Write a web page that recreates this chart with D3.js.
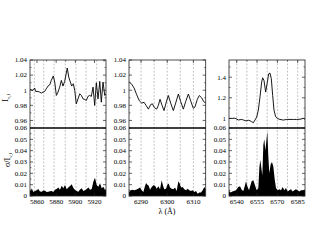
<!DOCTYPE html>
<html><head><meta charset="utf-8">
<script src="https://cdn.jsdelivr.net/npm/d3@7"></script>
<style>
html,body{margin:0;padding:0;background:#fff;}
svg{display:block;font-family:"Liberation Serif","Times New Roman",serif;}
</style></head>
<body><svg id="c" width="317" height="245"></svg>
<script>
// ---------- DATA ----------
// Panel 1 (5853-5932 Å)
const p1Wave = [5852.7,5855.8,5857.6,5858.6,5861.0,5862.8,5864.5,5866.3,5868.0,5869.7,5871.5,5873.3,5874.9,5877.0,5878.5,5880.2,5881.9,5883.7,5885.4,5887.1,5888.9,5891.6,5893.1,5894.8,5896.2,5897.9,5899.4,5901.0,5902.8,5904.6,5906.3,5908.0,5909.8,5911.5,5913.2,5915.0,5916.7,5918.5,5920.2,5921.9,5923.7,5925.5,5927.1,5928.9,5930.7,5932.0];
const p1Flux = [1.001,0.9997,1.0028,0.9984,0.9984,0.9975,0.9962,0.9975,0.9984,1.0019,1.0055,1.0072,1.013,1.0188,1.0108,0.9931,0.9975,1.0041,1.013,1.0055,1.0117,1.0294,1.0174,1.0108,1.0055,1.0086,0.9997,0.982,0.9886,0.9953,0.9931,0.9886,0.9878,0.9865,0.9918,0.9931,0.9918,1.0041,0.9798,1.0099,0.9886,1.0117,0.9842,1.0108,0.9931,0.9953];
const p1SigWave = [5852.7,5853.6,5854.5,5856.2,5857.9,5859.6,5861.4,5863.1,5864.9,5866.6,5868.4,5870.1,5871.8,5873.5,5875.3,5877.0,5878.8,5880.5,5882.2,5884.0,5885.8,5887.5,5889.2,5891.0,5892.7,5894.5,5896.2,5898.0,5899.7,5901.4,5903.1,5904.9,5906.7,5908.4,5910.1,5911.9,5913.6,5915.4,5917.1,5918.8,5920.5,5922.3,5924.0,5925.8,5927.5,5929.2,5931.0,5932.0];
const p1Sig = [0.0053,0.0045,0.0068,0.0035,0.0044,0.005,0.0062,0.004,0.0038,0.0048,0.0047,0.0035,0.0038,0.0042,0.0044,0.0035,0.0056,0.0062,0.0074,0.0055,0.0091,0.0068,0.0097,0.006,0.0074,0.0088,0.0103,0.007,0.0053,0.0045,0.0038,0.0058,0.0068,0.0045,0.005,0.0062,0.0074,0.0055,0.0062,0.0126,0.0162,0.0097,0.0082,0.0112,0.0068,0.0082,0.0053,0.006];
const p1Grid = [5857.2,5867.0,5877.8,5889.5,5900.7,5911.2,5922.3];
const p1XTicks = [5860,5880,5900,5920];
const p1YTicks = [0.96,0.98,1,1.02,1.04];

// Panel 2 (6285-6315 Å)
const p2Wave = [6285.42,6286.44,6287.33,6288.35,6289.36,6290.25,6291.15,6291.91,6292.80,6293.69,6294.33,6295.09,6295.98,6296.62,6297.25,6298.02,6298.78,6299.54,6300.43,6301.32,6302.34,6303.23,6304.25,6305.14,6306.16,6307.05,6308.07,6308.96,6309.97,6310.61,6311.50,6312.26,6313.16,6313.92,6314.68];
const p2Flux = [1.011,1.008,1.003,0.994,0.986,0.983,0.984,0.98,0.975,0.981,0.982,0.977,0.975,0.980,0.988,0.980,0.973,0.983,0.993,0.983,0.973,0.983,0.995,0.985,0.975,0.985,0.995,0.986,0.976,0.978,0.988,0.993,0.990,0.985,0.983];
const p2SigWave = [6285.42,6286.06,6286.69,6287.33,6288.09,6288.85,6289.62,6290.25,6290.89,6291.40,6291.91,6292.42,6292.93,6293.44,6294.07,6294.71,6295.34,6295.98,6296.62,6297.25,6297.89,6298.40,6298.90,6299.54,6300.05,6300.56,6301.07,6301.71,6302.34,6302.98,6303.61,6304.25,6304.76,6305.27,6305.90,6306.54,6307.18,6307.81,6308.45,6309.08,6309.72,6310.36,6310.99,6311.63,6312.26,6312.90,6313.54,6314.17,6314.68];
const p2Sig = [0.0035,0.005,0.0056,0.005,0.0056,0.0065,0.0074,0.005,0.0035,0.008,0.0115,0.01,0.009,0.0056,0.008,0.0094,0.009,0.0065,0.0085,0.006,0.0138,0.009,0.006,0.0065,0.01,0.011,0.0075,0.0065,0.006,0.0075,0.0045,0.013,0.011,0.0075,0.008,0.006,0.005,0.0065,0.005,0.0045,0.005,0.0035,0.0045,0.002,0.003,0.003,0.005,0.008,0.006];
const p2Grid = [6290,6295,6300,6305,6310];
const p2XTicks = [6290,6300,6310];
const p2YTicks = [0.96,0.98,1,1.02,1.04];

// Panel 3 (6534-6590 Å, H-alpha)
const p3Wave = [6534.3,6536.27,6538.73,6541.19,6543.65,6544.88,6546.85,6548.57,6549.80,6551.03,6552.26,6553.49,6554.72,6555.95,6557.18,6558.41,6559.15,6560.13,6561.36,6562.59,6563.58,6564.56,6565.54,6566.53,6567.51,6568.74,6569.97,6571.94,6574.40,6576.86,6579.32,6581.78,6584.24,6586.70,6589.16,6590.39];
const p3Flux = [1.000,1.000,1.002,0.985,0.99,0.985,0.975,0.982,0.978,0.968,0.958,0.985,1.013,1.08,1.208,1.352,1.394,1.368,1.256,1.35,1.433,1.44,1.385,1.224,1.08,1.016,1.0,0.99,0.984,0.99,0.99,0.99,0.99,0.992,1.0,0.992];
const p3SigWave = [6534.3,6535.53,6536.76,6537.99,6539.47,6541.19,6542.42,6543.65,6544.88,6546.11,6546.85,6547.83,6549.06,6550.04,6551.03,6552.26,6553.49,6554.72,6555.95,6556.69,6557.42,6558.16,6558.9,6559.64,6560.37,6561.11,6561.85,6562.59,6563.33,6564.06,6565.05,6566.03,6567.02,6568.0,6568.99,6570.22,6571.45,6572.68,6573.91,6575.13,6576.37,6577.6,6578.82,6580.06,6581.29,6582.51,6583.75,6584.98,6586.2,6587.44,6588.67,6590.39];
const p3Sig = [0.0044,0.003,0.004,0.0044,0.005,0.008,0.0085,0.0056,0.0044,0.0094,0.013,0.0085,0.005,0.009,0.013,0.014,0.0094,0.005,0.007,0.025,0.032,0.025,0.018,0.045,0.05,0.04,0.048,0.057,0.035,0.02,0.028,0.03,0.026,0.015,0.007,0.005,0.006,0.005,0.008,0.005,0.007,0.004,0.005,0.006,0.004,0.005,0.006,0.005,0.004,0.005,0.005,0.0055];
const p3Grid = [6540,6547.5,6555,6562.5,6570,6577.5,6585];
const p3XTicks = [6540,6555,6570,6585];
const p3YTicks = [1,1.2,1.4];

const sigTicks = [0,0.01,0.02,0.03,0.04,0.05,0.06];

// ---------- LAYOUT ----------
const yTopPx = 60, yMidPx = 128, yBotPx = 196;
const panels = [
  {x0:30,  x1:106,   xd:[5852.7,5932], yd:[0.95,1.04], wave:p1Wave, flux:p1Flux, sw:p1SigWave, sig:p1Sig, grid:p1Grid, xt:p1XTicks, xminor:10, yt:p1YTicks, yminor:0.01},
  {x0:129, x1:205.7, xd:[6285.4,6314.7], yd:[0.95,1.04], wave:p2Wave, flux:p2Flux, sw:p2SigWave, sig:p2Sig, grid:p2Grid, xt:p2XTicks, xminor:5, yt:p2YTicks, yminor:0.01},
  {x0:229, x1:305,   xd:[6534.3,6590.4], yd:[0.907,1.567], wave:p3Wave, flux:p3Flux, sw:p3SigWave, sig:p3Sig, grid:p3Grid, xt:p3XTicks, xminor:7.5, yt:p3YTicks, yminor:0.1}
];

const svg = d3.select("#c");
const fmt = v => String(+v.toFixed(4));
const axisCol = "#222";

panels.forEach((p,i) => {
  const x = d3.scaleLinear().domain(p.xd).range([p.x0,p.x1]);
  const yT = d3.scaleLinear().domain(p.yd).range([yMidPx,yTopPx]);
  const yB = d3.scaleLinear().domain([0,0.06]).range([yBotPx,yMidPx]);
  const g = svg.append("g");
  const cid = "clip"+i;
  svg.append("clipPath").attr("id",cid).append("rect")
    .attr("x",p.x0).attr("y",yTopPx).attr("width",p.x1-p.x0).attr("height",yBotPx-yTopPx);

  // gridlines
  g.selectAll(".grid").data(p.grid).enter().append("line")
    .attr("x1",d=>x(d)).attr("x2",d=>x(d)).attr("y1",yTopPx).attr("y2",yBotPx)
    .attr("stroke","#9a9a9a").attr("stroke-width",0.6).attr("stroke-dasharray","2,1.5");

  // sigma area
  const area = d3.area().x(d=>x(d[0])).y0(yBotPx).y1(d=>yB(d[1]));
  g.append("path").datum(p.sw.map((w,k)=>[w,p.sig[k]]))
    .attr("d",area).attr("fill","#000").attr("clip-path",`url(#${cid})`);

  // flux line
  const line = d3.line().x(d=>x(d[0])).y(d=>yT(d[1]));
  g.append("path").datum(p.wave.map((w,k)=>[w,p.flux[k]]))
    .attr("d",line).attr("fill","none").attr("stroke","#000").attr("stroke-width",0.9)
    .attr("clip-path",`url(#${cid})`);

  // frame
  g.append("rect").attr("x",p.x0).attr("y",yTopPx).attr("width",p.x1-p.x0).attr("height",yBotPx-yTopPx)
    .attr("fill","none").attr("stroke",axisCol).attr("stroke-width",0.8);
  g.append("line").attr("x1",p.x0).attr("x2",p.x1).attr("y1",yMidPx).attr("y2",yMidPx)
    .attr("stroke","#000").attr("stroke-width",1.3);

  const drawYTicks = (sc, maj, min) => {
    [[p.x0,1],[p.x1,-1]].forEach(([xx,dir])=>{
      maj.forEach(v=>g.append("line").attr("x1",xx).attr("x2",xx+dir*3).attr("y1",sc(v)).attr("y2",sc(v)).attr("stroke",axisCol).attr("stroke-width",0.7));
      min.forEach(v=>g.append("line").attr("x1",xx).attr("x2",xx+dir*1.5).attr("y1",sc(v)).attr("y2",sc(v)).attr("stroke",axisCol).attr("stroke-width",0.6));
    });
  };
  const yTmin = d3.range(Math.ceil(p.yd[0]/p.yminor), Math.floor(p.yd[1]/p.yminor)+1).map(k=>k*p.yminor)
        .filter(v=>!p.yt.some(m=>Math.abs(m-v)<1e-6) && yT(v) < yMidPx-0.5 && yT(v) > yTopPx+0.5);
  drawYTicks(yT, p.yt, yTmin);
  const sMin = d3.range(0,6).map(k=>0.005+k*0.01);
  drawYTicks(yB, sigTicks, sMin);

  // y tick labels
  g.selectAll(".ytl").data(p.yt).enter().append("text")
    .attr("x",p.x0-3).attr("y",d=>yT(d)).attr("dy","0.33em").attr("text-anchor","end")
    .attr("font-size",7).attr("fill","#000").text(fmt);
  g.selectAll(".ysl").data(sigTicks).enter().append("text")
    .attr("x",p.x0-3).attr("y",d=>yB(d)).attr("dy","0.33em").attr("text-anchor","end")
    .attr("font-size",7).attr("fill","#000").text(fmt);

  // x ticks
  const xMin = d3.range(Math.ceil(p.xd[0]/p.xminor), Math.floor(p.xd[1]/p.xminor)+1).map(k=>k*p.xminor)
        .filter(v=>!p.xt.some(m=>Math.abs(m-v)<1e-6));
  [[yBotPx,-1],[yTopPx,1]].forEach(([yy,dir])=>{
    p.xt.forEach(v=>g.append("line").attr("x1",x(v)).attr("x2",x(v)).attr("y1",yy).attr("y2",yy+dir*3).attr("stroke",axisCol).attr("stroke-width",0.7));
    xMin.forEach(v=>g.append("line").attr("x1",x(v)).attr("x2",x(v)).attr("y1",yy).attr("y2",yy+dir*1.5).attr("stroke",axisCol).attr("stroke-width",0.6));
  });
  g.selectAll(".xtl").data(p.xt).enter().append("text")
    .attr("x",d=>x(d)).attr("y",yBotPx+7.5).attr("text-anchor","middle")
    .attr("font-size",7).attr("fill","#000").text(d=>String(d));
});

// axis titles
const t1 = svg.append("text").attr("transform","translate(8,98) rotate(-90)")
  .attr("text-anchor","middle").attr("font-size",8);
t1.append("tspan").text("I");
t1.append("tspan").attr("font-size",5).attr("dy",2).text("ν,l");
const t2 = svg.append("text").attr("transform","translate(10,160) rotate(-90)")
  .attr("text-anchor","middle").attr("font-size",8);
t2.append("tspan").text("σ/I");
t2.append("tspan").attr("font-size",5).attr("dy",2).text("ν,l");
svg.append("text").attr("x",167).attr("y",213.5).attr("text-anchor","middle")
  .attr("font-size",8).text("λ (Å)");
</script>
</body></html>
